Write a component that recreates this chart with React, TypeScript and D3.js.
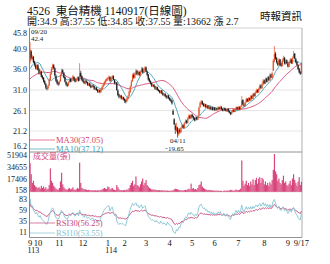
import React from "react";
import * as d3 from "d3";

// ---- data ----
const priorCloses = [32.0, 31.6, 31.8, 32.4, 32.1, 31.5, 31.2, 31.8, 32.5, 32.9, 32.3, 31.9, 32.4, 33.0, 32.6, 32.2, 32.8, 33.3, 32.9, 33.5, 34.2, 34.8, 34.3, 35.1, 35.6, 35.2, 36.0, 35.5, 36.4, 37.5];

const opens = [
  37.8, 40.2, 38.4, 38.9, 37.8, 37.0, 36.0,
  36.9, 35.9, 34.9, 35.4, 34.3, 33.9, 33.1, 32.4, 31.5, 31.4, 32.1, 33.4, 34.9, 36.1, 36.9, 36.2, 34.4, 33.3, 32.7,
  32.4, 33.1, 34.6, 35.7, 35.1, 34.1, 32.9, 32.4, 32.1, 32.9, 33.6, 33.1, 33.9, 34.1, 33.6, 33.1, 33.7, 34.0, 33.3, 35.1, 34.3,
  33.5, 33.1, 32.5, 33.1, 32.9, 32.1, 32.6, 32.1, 31.7, 32.1, 31.9, 31.1, 31.6, 31.1, 30.5, 31.0, 30.6, 31.1, 31.8, 32.2, 32.8, 33.2,
  33.5, 33.7, 34.1, 33.1, 33.8, 34.3, 33.4, 32.5, 32.8, 30.9, 29.9, 29.2, 29.7, 28.9, 29.3, 28.9,
  28.5, 28.3, 28.9, 29.6, 30.5, 31.9, 33.1, 34.6, 33.9, 34.7, 35.6, 34.7, 35.3, 34.5, 35.3, 36.1, 35.1, 35.7, 36.4,
  35.4, 34.7, 33.6, 33.1, 32.6, 31.9, 32.3, 31.9, 31.2, 31.7, 31.1, 30.9, 30.3, 30.9, 30.3, 29.7, 30.1, 29.6, 29.1, 29.7, 29.1,
  28.7, 28.5, 26.0, 24.0, 22.5, 21.2, 22.0, 20.4, 21.5, 20.9, 22.0, 22.6, 21.9, 23.1, 23.7, 23.1, 24.1, 24.9, 24.2, 25.1,
  24.7, 24.3, 23.7, 24.5, 23.9, 24.9, 26.9, 27.8, 28.3, 27.7, 27.1, 27.6, 26.8, 27.3, 26.5, 27.0, 26.3, 26.9, 26.2, 26.8, 26.1,
  26.6, 26.2, 26.9, 26.4, 27.0, 26.5, 26.0, 26.7, 26.3, 25.9, 26.5, 26.0, 25.7, 25.2, 25.7, 26.3, 25.8, 26.3, 26.9, 26.3,
  26.9, 26.4, 27.1, 28.6, 27.5, 27.1, 28.1, 28.9, 28.2, 29.1, 28.5, 29.6, 28.9, 30.1, 29.5, 30.3, 31.0, 30.4, 31.2, 32.1, 31.4, 32.3, 33.3,
  32.5, 33.7, 32.9, 34.1, 33.3, 34.7, 33.9, 35.6, 37.8, 39.7, 38.6, 37.5, 36.9, 38.3, 37.1, 36.7, 38.1, 38.7, 37.2, 38.1, 37.3,
  36.5, 37.7, 38.3, 37.3, 38.7, 39.7, 38.4, 37.7, 36.9, 36.1, 35.3, 34.9,
];
const highs = [
  42.4, 40.5, 39.4, 39.1, 38.0, 37.3, 37.1,
  37.2, 36.2, 35.9, 35.6, 34.6, 34.1, 33.4, 32.7, 31.9, 32.3, 33.8, 35.2, 36.5, 37.3, 37.2, 36.4, 34.7, 33.6, 33.0,
  33.3, 34.8, 36.1, 36.0, 35.3, 34.3, 33.2, 32.7, 33.1, 33.8, 33.8, 34.0, 34.6, 34.3, 33.8, 33.9, 34.3, 34.2, 37.4, 35.6, 34.5,
  33.7, 33.3, 33.5, 33.4, 33.0, 32.8, 32.8, 32.3, 32.3, 32.3, 32.0, 31.8, 31.7, 31.2, 31.2, 31.1, 31.5, 32.1, 32.6, 33.2, 33.6, 33.9,
  34.2, 34.5, 34.3, 34.2, 34.6, 34.5, 33.6, 33.2, 32.9, 31.1, 30.1, 29.9, 29.8, 29.5, 29.4, 29.0,
  28.7, 29.2, 29.8, 30.9, 32.1, 33.4, 34.9, 35.1, 35.2, 36.0, 35.8, 35.6, 35.5, 35.7, 36.5, 36.4, 36.2, 36.7, 36.6,
  35.6, 34.8, 33.9, 33.3, 32.8, 32.5, 32.4, 32.0, 31.9, 31.8, 31.3, 31.0, 31.0, 31.0, 30.4, 30.3, 30.2, 29.8, 29.9, 29.8, 29.3,
  29.0, 28.7, 26.4, 24.3, 23.0, 23.2, 22.2, 21.8, 21.9, 22.2, 22.9, 22.8, 23.3, 24.0, 23.9, 24.5, 25.2, 25.1, 25.3, 25.3,
  24.9, 24.5, 24.7, 24.6, 25.0, 27.0, 28.3, 28.6, 28.5, 27.9, 27.8, 27.7, 27.5, 27.4, 27.2, 27.1, 27.0, 27.0, 27.0, 26.9, 26.8,
  26.8, 27.1, 27.0, 27.3, 27.1, 26.6, 26.9, 26.8, 26.4, 26.7, 26.6, 26.1, 25.8, 26.0, 26.5, 26.4, 26.7, 27.1, 27.0, 27.2,
  27.1, 27.3, 29.6, 28.8, 27.8, 28.3, 29.2, 29.0, 29.3, 29.2, 29.8, 29.8, 30.3, 30.3, 30.7, 31.3, 31.2, 31.6, 32.4, 32.3, 32.8, 33.6, 33.5,
  34.0, 33.9, 34.3, 34.3, 35.0, 34.9, 35.4, 38.4, 41.5, 40.1, 38.9, 37.9, 38.6, 38.4, 37.4, 38.5, 39.2, 38.9, 38.4, 38.3, 37.5,
  37.9, 38.6, 38.5, 39.0, 40.3, 39.8, 38.7, 37.9, 37.1, 36.3, 35.6, 37.55,
];
const lows = [
  37.3, 38.2, 38.1, 37.4, 36.6, 35.9, 35.8,
  35.6, 34.7, 34.6, 34.0, 33.5, 32.8, 32.2, 31.2, 30.9, 31.1, 31.9, 33.2, 34.6, 35.8, 35.9, 34.2, 32.9, 32.3, 32.0,
  32.1, 32.9, 34.3, 34.9, 33.8, 32.8, 32.0, 31.7, 31.9, 32.7, 32.8, 32.9, 33.6, 33.2, 32.8, 32.9, 33.4, 33.0, 33.1, 34.0, 33.1,
  32.8, 32.4, 32.3, 32.6, 32.0, 31.9, 31.8, 31.4, 31.5, 31.6, 31.0, 30.9, 30.8, 30.3, 30.3, 30.2, 30.4, 30.9, 31.6, 32.0, 32.6, 33.0,
  33.2, 33.5, 33.0, 32.9, 33.6, 33.3, 32.4, 32.3, 30.8, 29.5, 29.0, 29.0, 28.7, 28.6, 28.5, 27.9,
  27.8, 28.1, 28.7, 29.4, 30.3, 31.7, 32.9, 33.7, 33.7, 34.5, 34.5, 34.5, 34.3, 34.3, 35.1, 35.0, 35.0, 35.5, 35.3,
  34.3, 33.2, 32.8, 32.3, 31.7, 31.7, 31.6, 31.0, 31.0, 30.8, 30.6, 30.2, 30.1, 30.0, 29.6, 29.5, 29.3, 28.9, 28.9, 28.8, 28.4,
  28.1, 27.5, 25.1, 22.6, 20.5, 21.0, 19.65, 20.1, 20.6, 20.7, 21.8, 21.7, 21.8, 22.9, 22.9, 23.0, 23.9, 24.1, 24.0, 24.4,
  23.9, 23.5, 23.6, 23.8, 23.8, 24.8, 26.7, 27.5, 27.4, 27.0, 26.9, 26.7, 26.7, 26.4, 26.4, 26.2, 26.2, 26.1, 26.1, 26.0, 26.0,
  26.1, 26.1, 26.3, 26.3, 26.2, 25.9, 25.9, 26.0, 25.8, 25.8, 25.7, 25.4, 25.0, 25.1, 25.6, 25.7, 25.7, 26.2, 26.2, 26.2,
  26.3, 26.3, 27.0, 27.4, 27.0, 27.0, 27.9, 28.1, 28.1, 28.4, 28.4, 28.8, 28.8, 29.4, 29.4, 30.2, 30.3, 30.3, 31.0, 31.3, 31.3, 32.1, 32.4,
  32.4, 32.8, 32.8, 33.2, 33.2, 33.8, 33.8, 35.5, 37.6, 38.2, 37.3, 36.7, 36.8, 36.8, 36.5, 36.6, 37.9, 37.1, 37.0, 37.2, 36.4,
  36.4, 37.5, 37.2, 37.2, 38.5, 38.3, 37.4, 36.8, 35.8, 35.0, 34.6, 34.85,
];
const closes = [
  40.6, 38.6, 39.0, 37.6, 37.0, 36.2, 36.8,
  35.8, 35.0, 35.5, 34.2, 33.8, 33.0, 32.5, 31.6, 31.3, 32.0, 33.5, 34.8, 36.0, 36.8, 36.2, 34.5, 33.2, 32.6, 32.3,
  33.0, 34.5, 35.6, 35.2, 34.0, 33.0, 32.3, 32.0, 32.8, 33.5, 33.0, 33.8, 34.2, 33.5, 33.0, 33.6, 34.0, 33.2, 35.0, 34.2, 33.4,
  33.0, 32.6, 33.2, 32.8, 32.2, 32.5, 32.0, 31.6, 32.0, 31.8, 31.2, 31.5, 31.0, 30.6, 30.9, 30.5, 31.2, 31.8, 32.3, 32.9, 33.3, 33.6,
  33.8, 34.0, 33.2, 33.9, 34.2, 33.5, 32.6, 32.9, 31.0, 29.8, 29.3, 29.6, 29.0, 29.2, 28.8, 28.4,
  28.2, 29.0, 29.5, 30.6, 31.8, 33.0, 34.5, 34.0, 34.8, 35.5, 34.8, 35.2, 34.6, 35.4, 36.0, 35.2, 35.8, 36.3, 35.5,
  34.6, 33.5, 33.0, 32.5, 32.0, 32.2, 31.8, 31.3, 31.6, 31.0, 30.8, 30.4, 30.8, 30.2, 29.8, 30.0, 29.5, 29.2, 29.6, 29.0, 28.6,
  28.4, 27.8, 25.1, 22.8, 21.5, 22.3, 20.6, 21.4, 21.0, 21.9, 22.5, 22.0, 23.0, 23.6, 23.2, 24.2, 24.8, 24.3, 25.0, 24.6,
  24.2, 23.8, 24.4, 24.0, 24.8, 26.8, 27.9, 28.2, 27.6, 27.2, 27.5, 26.9, 27.2, 26.6, 26.9, 26.4, 26.8, 26.3, 26.7, 26.2, 26.5,
  26.3, 26.8, 26.5, 26.9, 26.4, 26.1, 26.6, 26.2, 26.0, 26.4, 25.9, 25.6, 25.3, 25.8, 26.2, 25.9, 26.4, 26.8, 26.4, 26.9,
  26.5, 27.0, 28.5, 27.6, 27.2, 28.0, 28.8, 28.3, 29.0, 28.6, 29.5, 29.0, 30.0, 29.6, 30.4, 30.9, 30.5, 31.3, 32.0, 31.5, 32.4, 33.2, 32.6,
  33.6, 33.0, 34.0, 33.4, 34.6, 34.0, 35.0, 38.0, 39.6, 38.5, 37.6, 37.0, 38.2, 37.0, 36.8, 38.0, 38.6, 37.3, 38.0, 37.4, 36.6,
  37.6, 38.2, 37.4, 38.6, 39.6, 38.5, 37.6, 37.0, 36.0, 35.2, 34.85, 37.55,
];
const volumes = [
  39000, 24000, 12000, 15000, 9000, 7000, 6000,
  5000, 6000, 4000, 8000, 5000, 7000, 4000, 6000, 3000, 4000, 9000, 32000, 15000, 12000, 8000, 6000, 4000, 3000, 2500,
  5000, 14000, 26000, 10000, 6000, 4000, 3000, 2500, 4000, 5000, 3000, 4000, 6000, 3000, 2500, 3000, 5000, 4000, 40000, 12000, 5000,
  4000, 3000, 3500, 2500, 2000, 2500, 2000, 1800, 2200, 1500, 2000, 1800, 1500, 2000, 1500, 1800, 2500, 3000, 4000, 5000, 4000, 3500,
  7000, 6000, 3000, 4000, 5000, 3000, 2500, 2000, 9000, 6000, 3000, 2000, 2000, 1500, 2000, 2500,
  2000, 3000, 2500, 5000, 9000, 12000, 15000, 8000, 10000, 21000, 9000, 8000, 6000, 10000, 14000, 18000, 9000, 12000, 16000,
  9000, 7000, 5000, 4000, 3000, 3000, 2500, 3000, 2000, 2000, 1800, 2000, 1500, 2000, 1500, 1800, 1500, 1200, 1500, 1200, 1000,
  1500, 1200, 2000, 3000, 4000, 3500, 3000, 2500, 2000, 1500, 2000, 1500, 2000, 2500, 2000, 3000, 4000, 3000, 11000, 4000,
  5000, 3000, 3500, 2500, 5000, 9000, 10000, 14000, 7000, 5000, 4000, 3000, 2500, 2000, 2500, 2000, 1800, 1500, 1500, 1200, 1500,
  1200, 1500, 1000, 1200, 1000, 158, 1200, 1500, 1000, 1800, 1200, 1500, 2500, 2000, 1500, 1200, 2000, 3000, 1500, 2000,
  2500, 4000, 43000, 15000, 8000, 11000, 15000, 9000, 12000, 8000, 14000, 10000, 17000, 9000, 16000, 19000, 11000, 18000, 20000, 12000, 19000, 17000, 10000,
  14000, 9000, 12000, 8000, 13000, 10000, 16000, 30000, 51904, 28000, 24000, 15000, 18000, 12000, 10000, 16000, 22000, 12000, 14000, 9000, 8000,
  11000, 15000, 9000, 18000, 24000, 16000, 12000, 8000, 14000, 20000, 9000, 13662,
];

const monthLabels = ["9", "10", "11", "12", "1", "2", "3", "4", "5", "6", "7", "8", "9", "9/17"];
const monthStartIdx = [0, 7, 26, 47, 69, 84, 103, 124, 144, 164, 185, 208, 229, 241];
const yearLabels = ["113", "114"];
const yearIdx = [0, 69];
const priceTicks = [45.8, 40.9, 36.0, 31.0, 26.1, 21.2, 16.2];
const volTicks = [51904, 34655, 17406, 158];
const rsiTicks = [83, 59, 35, 11];

const SERIF = "'Liberation Serif','Noto Sans CJK TC',serif";
const C_UP = "#e4532c";
const C_DOWN = "#1d1d1d";
const C_MA30 = "#d8436e";
const C_MA10 = "#3f9db4";
const C_VOL = "#d8457b";
const C_RSI30 = "#c6477a";
const C_RSI10 = "#86c3d1";

function movingAvg(all: number[], n: number, offset: number, len: number) {
  const out: number[] = [];
  for (let i = 0; i < len; i++) {
    const j = i + offset;
    out.push(d3.mean(all.slice(Math.max(0, j - n + 1), j + 1)) as number);
  }
  return out;
}

function rsiCalc(all: number[], n: number, offset: number, len: number) {
  const res: (number | null)[] = new Array(all.length).fill(null);
  let ag = 0, al = 0;
  for (let k = 1; k < all.length; k++) {
    const d = all[k] - all[k - 1];
    const g = Math.max(d, 0), l = Math.max(-d, 0);
    if (k <= n) {
      ag += g / n; al += l / n;
      if (k === n) res[k] = (100 * ag) / (ag + al || 1);
    } else {
      ag = (ag * (n - 1) + g) / n;
      al = (al * (n - 1) + l) / n;
      res[k] = (100 * ag) / (ag + al || 1);
    }
  }
  return res.slice(offset, offset + len);
}

export default function App() {
  const N = closes.length;
  const all = priorCloses.concat(closes);
  const off = priorCloses.length;
  const ma10 = movingAvg(all, 10, off, N);
  const ma30 = movingAvg(all, 30, off, N);
  const rsi10 = rsiCalc(all, 10, off, N);
  const rsi30 = rsiCalc(all, 30, off, N);

  const L = 29.5, R = 302;
  const x = d3.scaleBand<number>().domain(d3.range(N)).range([L, R]);
  const bw = x.bandwidth();
  const cx = (i: number) => (x(i) as number) + bw / 2;
  const py = d3.scaleLinear().domain([16.2, 45.8]).range([152, 28]);
  const vy = d3.scaleLinear().domain([158, 51904]).range([191.5, 154]);
  const ry = d3.scaleLinear().domain([0, 100]).range([237, 191.2]);

  const lineP = d3.line<number>().x((_, i) => cx(i)).y((d) => py(d));
  const lineR = d3.line<number | null>()
    .defined((d) => d != null)
    .x((_, i) => cx(i))
    .y((d) => ry(d as number));

  const clamp = (v: number, a: number, b: number) => Math.max(a, Math.min(b, v));

  return (
    <svg width={330} height={264} style={{ position: "absolute", left: 0, top: 0, background: "#fff" }} fontFamily={SERIF}>
      <rect width={330} height={264} fill="#fff" />
      {/* header */}
      <text x={27} y={15} fontSize={11.5} fill="#111" style={{ whiteSpace: "pre" }}>4526  東台精機 1140917(日線圖)</text>
      <text x={27} y={24.5} fontSize={10} fill="#111">開:34.9 高:37.55 低:34.85 收:37.55 量:13662 漲 2.7</text>
      <text x={302} y={19.5} fontSize={10.5} fill="#111" textAnchor="end">時報資訊</text>

      {/* grid */}
      {priceTicks.slice(1, -1).map((t) => (
        <line key={"g" + t} x1={L} x2={R} y1={py(t)} y2={py(t)} stroke="#dedede" strokeWidth={0.8} />
      ))}
      <line x1={L} x2={R} y1={28} y2={28} stroke="#c8c8c8" strokeWidth={0.8} />
      <line x1={L} x2={R} y1={152} y2={152} stroke="#777" strokeWidth={0.8} />
      <line x1={L} x2={R} y1={191.8} y2={191.8} stroke="#bbb" strokeWidth={0.6} />
      <line x1={L} x2={R} y1={237.5} y2={237.5} stroke="#777" strokeWidth={0.8} />
      <line x1={R} x2={R} y1={28} y2={237.5} stroke="#999" strokeWidth={0.8} />
      <line x1={L} x2={L} y1={28} y2={237.5} stroke="#666" strokeWidth={0.8} />

      {/* axis labels */}
      {priceTicks.map((t) => (
        <text key={"p" + t} x={27} y={clamp(py(t) + 3, 36, 148.5)} fontSize={8} textAnchor="end" fill="#222">{t.toFixed(1)}</text>
      ))}
      {volTicks.map((t) => (
        <text key={"v" + t} x={27} y={clamp(vy(t) + 3, 157.5, 193)} fontSize={8} textAnchor="end" fill="#222">{t}</text>
      ))}
      {rsiTicks.map((t) => (
        <text key={"r" + t} x={27} y={ry(t) + 3.2} fontSize={8} textAnchor="end" fill="#222">{t}</text>
      ))}
      {monthLabels.map((m, k) => (
        <text key={"m" + k} x={cx(monthStartIdx[k])} y={245.5} fontSize={8.5} textAnchor="middle" fill="#111">{m}</text>
      ))}
      {yearLabels.map((m, k) => (
        <text key={"y" + k} x={cx(yearIdx[k]) - 2.5} y={253} fontSize={8} fill="#111">{m}</text>
      ))}

      {/* MA lines */}
      <path d={lineP(ma30) || ""} fill="none" stroke={C_MA30} strokeWidth={0.9} />
      <path d={lineP(ma10) || ""} fill="none" stroke={C_MA10} strokeWidth={0.9} />

      {/* candles */}
      {closes.map((c, i) => {
        const o = opens[i];
        const col = c >= o ? C_UP : C_DOWN;
        const top = py(Math.max(o, c));
        const h = Math.max(0.8, Math.abs(py(o) - py(c)));
        return (
          <g key={"c" + i}>
            <line x1={cx(i)} x2={cx(i)} y1={py(highs[i])} y2={py(lows[i])} stroke={col} strokeWidth={0.7} />
            <rect x={cx(i) - 0.6} width={1.2} y={top} height={h} fill={col} />
          </g>
        );
      })}

      {/* high / low annotations */}
      <text x={31} y={33.5} fontSize={7} fill="#222">09/20</text>
      <text x={31} y={40.5} fontSize={7} fill="#222">42.4</text>
      <text x={170} y={143} fontSize={7} fill="#222">04/11</text>
      <line x1={165.5} x2={167.5} y1={148.5} y2={148.5} stroke="#444" strokeWidth={0.6} />
      <text x={168} y={151} fontSize={7} fill="#222">19.65</text>

      {/* MA legend */}
      <line x1={30} x2={55} y1={140} y2={140} stroke={C_MA30} strokeWidth={0.7} />
      <text x={56} y={143} fontSize={8.5} fill={C_MA30}>MA30(37.05)</text>
      <line x1={30} x2={55} y1={149} y2={149} stroke={C_MA10} strokeWidth={0.7} />
      <text x={56} y={151.5} fontSize={8.5} fill={C_MA10}>MA10(37.12)</text>

      {/* volume */}
      {volumes.map((v, i) => (
        <rect key={"v" + i} x={x(i)} width={bw + 0.05} y={vy(v)} height={Math.max(0, 191.8 - vy(v))} fill={C_VOL} />
      ))}
      <text x={33} y={159} fontSize={8} fill={C_VOL}>成交量(張)</text>

      {/* RSI */}
      <path d={lineR(rsi30) || ""} fill="none" stroke={C_RSI30} strokeWidth={0.9} />
      <path d={lineR(rsi10) || ""} fill="none" stroke={C_RSI10} strokeWidth={0.9} />
      <line x1={30} x2={55} y1={223} y2={223} stroke={C_RSI30} strokeWidth={0.7} />
      <text x={56} y={226} fontSize={8.5} fill={C_RSI30}>RSI30(56.25)</text>
      <line x1={30} x2={55} y1={233} y2={233} stroke={C_RSI10} strokeWidth={0.7} />
      <text x={56} y={235.5} fontSize={8.5} fill={C_RSI10}>RSI10(53.55)</text>
    </svg>
  );
}
